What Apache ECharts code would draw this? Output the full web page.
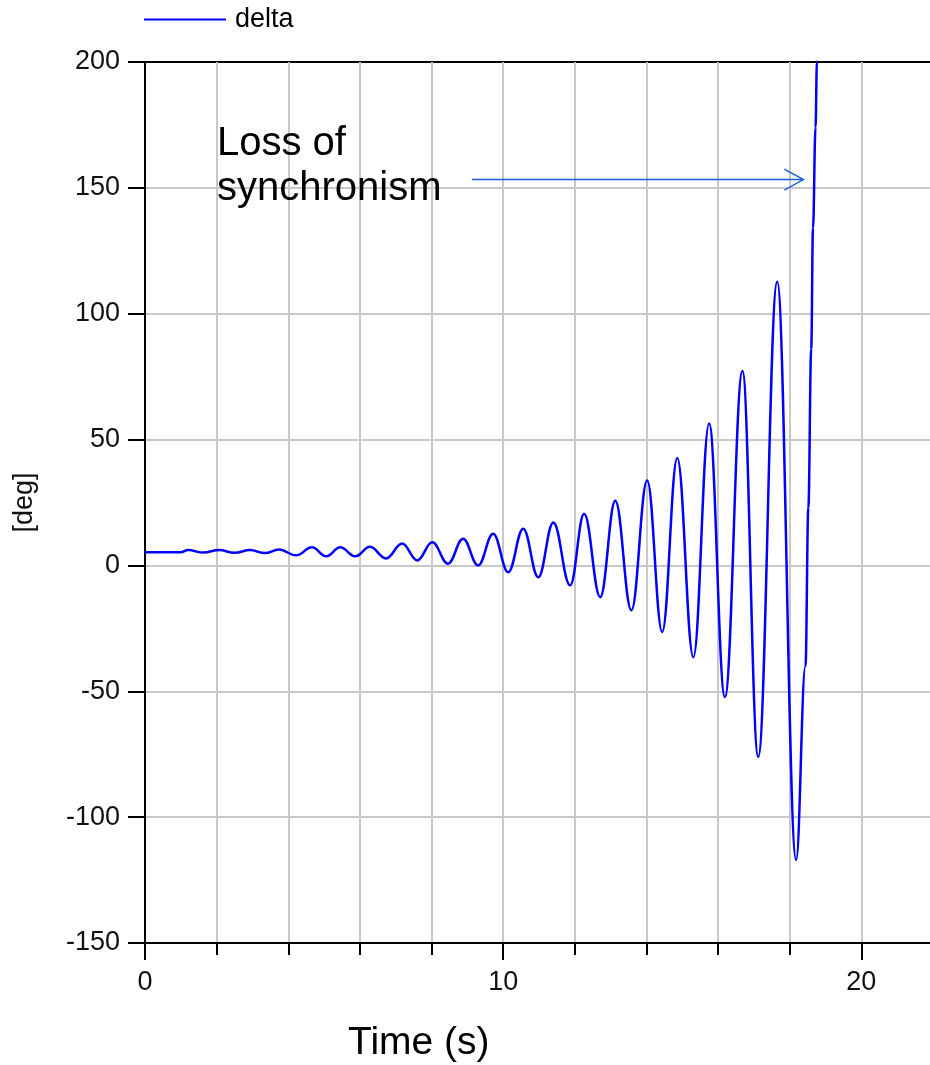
<!DOCTYPE html>
<html>
<head>
<meta charset="utf-8">
<title>delta</title>
<script src="https://cdn.jsdelivr.net/npm/echarts@6.0.0/dist/echarts.min.js"></script>
<style>
  html, body { margin: 0; padding: 0; background: #fff; }
  #chart { width: 930px; height: 1065px; }
</style>
</head>
<body>
<div id="chart"></div>
<script>
  // rotor angle delta at the peaks / troughs of each swing
  var timeS = [0, 1.0, 1.20, 1.63, 2.07, 2.50, 2.93, 3.35, 3.74, 4.22, 4.66, 5.06, 5.45, 5.87,
    6.28, 6.73, 7.18, 7.60, 8.02, 8.46, 8.88, 9.30, 9.72, 10.14, 10.56, 10.98, 11.40, 11.87,
    12.26, 12.71, 13.13, 13.58, 14.02, 14.44, 14.86, 15.31, 15.75, 16.19, 16.68, 17.12, 17.65,
    18.18, 18.44, 18.52, 18.60, 18.65, 18.72, 18.76, 18.80];
  var deltaDeg = [5.2, 5.2, 6.1, 5.1, 6.1, 5.0, 6.1, 4.9, 6.3, 4.0, 7.2, 3.6, 7.2, 3.6,
    7.4, 2.8, 8.7, 2.0, 9.2, 0.7, 10.6, 0.0, 12.6, -2.7, 14.6, -4.7, 17.1, -7.9,
    20.5, -12.6, 25.7, -17.8, 33.7, -26.4, 42.7, -36.5, 56.4, -52.3, 77.2, -76, 112.7,
    -117, -40, 23, 86, 134, 174, 200, 230];

  var xMax = 22;
  var xLabelValues = [0, 10, 20];
  var yMin = -150, yMax = 200, yStep = 50;

  // annotation (data coords)
  var noteText = 'Loss of\nsynchronism';
  var notePos = [2.01, 176.4];
  var arrowFrom = [9.13, 153.3];
  var arrowTo = [18.38, 153.3];

  var font = "'Liberation Sans', Arial, sans-serif";
  var gridGray = '#c8c8c8';

  var myChart = echarts.init(document.getElementById('chart'));

  var options = {
    animation: false,
    backgroundColor: '#fff',
    textStyle: { fontFamily: font },
    legend: {
      data: ['delta'],
      left: 144,
      top: 6,
      padding: 0,
      icon: 'rect',
      itemWidth: 82,
      itemHeight: 2,
      textStyle: { fontSize: 27, color: '#000', fontFamily: font, padding: [0, 0, 0, 4] }
    },
    grid: {
      left: 145,
      right: -3,
      top: 62,
      bottom: 122,
      show: true,
      borderColor: '#000',
      borderWidth: 2,
      outerBoundsMode: 'none'
    },
    xAxis: [
      {
        type: 'value',
        min: 0,
        max: xMax,
        interval: 2,
        axisLine: { onZero: false, lineStyle: { color: '#000', width: 2 } },
        axisTick: { length: 12, lineStyle: { color: '#000', width: 2 } },
        axisLabel: {
          margin: 26,
          fontSize: 27,
          color: '#111',
          fontFamily: font,
          formatter: function (v) {
            return xLabelValues.indexOf(v) >= 0 ? String(v) : '';
          }
        },
        splitLine: { show: true, showMinLine: false, lineStyle: { color: gridGray, width: 2 } }
      },
      {
        // longer ticks at the labelled values
        type: 'value',
        position: 'bottom',
        min: 0,
        max: xMax,
        interval: 10,
        axisLine: { show: false, onZero: false },
        axisTick: { length: 17, lineStyle: { color: '#000', width: 2 } },
        axisLabel: { show: false },
        splitLine: { show: false }
      }
    ],
    yAxis: {
      type: 'value',
      min: yMin,
      max: yMax,
      interval: yStep,
      name: '[deg]',
      nameLocation: 'middle',
      nameGap: 107,
      nameTextStyle: { fontSize: 27, color: '#111', fontFamily: font },
      axisLine: { show: true, onZero: false, lineStyle: { color: '#000', width: 2 } },
      axisTick: { show: true, length: 17, lineStyle: { color: '#000', width: 2 } },
      axisLabel: { margin: 25, fontSize: 27, color: '#111', fontFamily: font },
      splitLine: {
        show: true, showMinLine: false, showMaxLine: false,
        lineStyle: { color: gridGray, width: 2 }
      }
    },
    series: [
      {
        name: 'delta',
        type: 'line',
        color: '#0000ff',
        showSymbol: false,
        symbol: 'none',
        smooth: 0.4,
        smoothMonotone: 'x',
        clip: true,
        lineStyle: { color: '#0000ff', width: 2.5 },
        data: timeS.map(function (t, i) { return [t, deltaDeg[i]]; })
      }
    ]
  };

  myChart.setOption(options);

  // annotation + axis title
  var a0 = myChart.convertToPixel({ seriesIndex: 0 }, arrowFrom);
  var a1 = myChart.convertToPixel({ seriesIndex: 0 }, arrowTo);
  var np = myChart.convertToPixel({ seriesIndex: 0 }, notePos);
  var arrowBlue = '#1b5ed6';

  myChart.setOption({
    graphic: [
      {
        type: 'text',
        x: np[0],
        y: np[1],
        style: { text: noteText, font: '40px ' + font, lineHeight: 45, fill: '#000' }
      },
      {
        type: 'line',
        shape: { x1: a0[0], y1: a0[1], x2: a1[0], y2: a1[1] },
        style: { stroke: arrowBlue, lineWidth: 1.5 }
      },
      {
        type: 'polyline',
        shape: { points: [[a1[0] - 19, a1[1] - 10.5], [a1[0], a1[1]], [a1[0] - 19, a1[1] + 10.5]] },
        style: { stroke: arrowBlue, lineWidth: 1.5, fill: null }
      },
      {
        type: 'text',
        left: 348,
        top: 1024,
        style: { text: 'Time (s)', font: '39px ' + font, fill: '#000' }
      }
    ]
  });
</script>
</body>
</html>
